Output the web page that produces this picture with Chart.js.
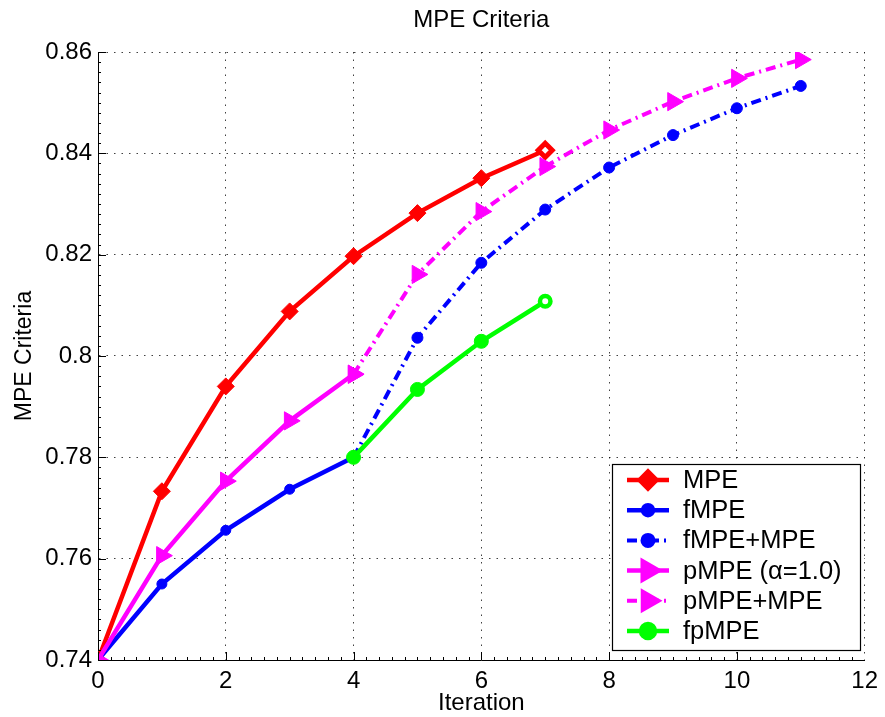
<!DOCTYPE html>
<html>
<head>
<meta charset="utf-8">
<title>MPE Criteria</title>
<script src="https://cdn.jsdelivr.net/npm/chart.js@4/dist/chart.umd.min.js"></script>
<style>
  html, body { margin: 0; padding: 0; background: #ffffff; }
  #chart { display: block; }
</style>
</head>
<body>
<canvas id="chart" width="885" height="717"></canvas>
<script>
// iterations for each run
const itersFull = [0, 1, 2, 3, 4, 5, 6, 7];
const itersStart = [0, 1, 2, 3, 4];
const itersCont = [4, 5, 6, 7, 8, 9, 10, 11];
const itersFp = [4, 5, 6, 7];

// MPE criteria values
const mpe = [0.740, 0.7733, 0.7940, 0.8088, 0.8197, 0.8282, 0.8351, 0.8406];
const fmpe = [0.740, 0.7550, 0.7656, 0.7737, 0.780];
const fmpeMpe = [0.780, 0.8036, 0.8184, 0.8289, 0.8372, 0.8436, 0.8489, 0.8533];
const pmpe = [0.740, 0.7606, 0.7753, 0.7872, 0.7964];
const pmpeMpe = [0.7964, 0.8161, 0.8285, 0.8374, 0.8446, 0.8502, 0.8548, 0.8585];
const fpmpe = [0.780, 0.7934, 0.8029, 0.8108];

const seriesNames = ['MPE', 'fMPE', 'fMPE+MPE', 'pMPE (\u03b1=1.0)', 'pMPE+MPE', 'fpMPE'];

const xTicks = [0, 2, 4, 6, 8, 10, 12];
const yTicks = [0.74, 0.76, 0.78, 0.80, 0.82, 0.84, 0.86];

const FONT = "'Liberation Sans', Arial, Helvetica, sans-serif";
const dashDot = [10, 5, 2, 5];
const gridDots = [1.5, 6];

function toPoints(xs, ys) {
    return xs.map((x, i) => ({ x: x, y: ys[i] }));
}

// hollow-looking last marker, like the original figure
function lastWhite(n, color) {
    const arr = new Array(n).fill(color);
    arr[n - 1] = '#ffffff';
    return arr;
}
function lastValue(n, normal, last) {
    const arr = new Array(n).fill(normal);
    arr[n - 1] = last;
    return arr;
}

const datasets = [
    {
        label: seriesNames[0],
        data: toPoints(itersFull, mpe),
        borderColor: '#ff0000',
        backgroundColor: '#ff0000',
        borderWidth: 4.5,
        pointStyle: 'rectRot',
        pointRadius: lastValue(mpe.length, 8.5, 7),
        pointBorderWidth: lastValue(mpe.length, 1, 5),
        pointBackgroundColor: lastWhite(mpe.length, '#ff0000'),
        pointBorderColor: '#ff0000',
        order: 5
    },
    {
        label: seriesNames[1],
        data: toPoints(itersStart, fmpe),
        borderColor: '#0000ff',
        backgroundColor: '#0000ff',
        borderWidth: 4.5,
        pointStyle: 'circle',
        pointRadius: 5,
        pointBorderWidth: 1,
        pointBackgroundColor: '#0000ff',
        order: 4
    },
    {
        label: seriesNames[2],
        data: toPoints(itersCont, fmpeMpe),
        borderColor: '#0000ff',
        backgroundColor: '#0000ff',
        borderWidth: 4,
        borderDash: dashDot,
        pointStyle: 'circle',
        pointRadius: 5.5,
        pointBorderWidth: 1,
        pointBackgroundColor: '#0000ff',
        order: 3
    },
    {
        label: seriesNames[3],
        data: toPoints(itersStart, pmpe),
        borderColor: '#ff00ff',
        backgroundColor: '#ff00ff',
        borderWidth: 4.5,
        pointStyle: 'triangle',
        pointRotation: 90,
        pointRadius: 10.5,
        pointBorderWidth: 1,
        pointBackgroundColor: '#ff00ff',
        order: 2
    },
    {
        label: seriesNames[4],
        data: toPoints(itersCont, pmpeMpe),
        borderColor: '#ff00ff',
        backgroundColor: '#ff00ff',
        borderWidth: 4,
        borderDash: dashDot,
        pointStyle: 'triangle',
        pointRotation: 90,
        pointRadius: 10.5,
        pointBorderWidth: 1,
        pointBackgroundColor: '#ff00ff',
        order: 1
    },
    {
        label: seriesNames[5],
        data: toPoints(itersFp, fpmpe),
        borderColor: '#00ff00',
        backgroundColor: '#00ff00',
        borderWidth: 4.5,
        pointStyle: 'circle',
        pointRadius: lastValue(fpmpe.length, 7, 5.25),
        pointBorderWidth: lastValue(fpmpe.length, 1, 4.5),
        pointBackgroundColor: lastWhite(fpmpe.length, '#00ff00'),
        pointBorderColor: '#00ff00',
        order: 0
    }
];

// title centred over the plot area, not the whole canvas
const plotTitle = {
    id: 'plotTitle',
    afterDraw(chart) {
        const ctx = chart.ctx;
        const area = chart.chartArea;
        ctx.save();
        ctx.fillStyle = '#000000';
        ctx.font = '24px ' + FONT;
        ctx.textAlign = 'center';
        ctx.textBaseline = 'middle';
        ctx.fillText('MPE Criteria', (area.left + area.right) / 2, 20);
        ctx.restore();
    }
};

// inward major/minor ticks, MATLAB style
const innerTicks = {
    id: 'innerTicks',
    afterDraw(chart) {
        const ctx = chart.ctx;
        const area = chart.chartArea;
        const xs = chart.scales.x;
        const ys = chart.scales.y;
        ctx.save();
        ctx.strokeStyle = '#000000';
        ctx.lineWidth = 1;
        ctx.beginPath();
        for (let i = 0; i < xTicks.length - 1; i++) {
            for (let k = 0; k < 10; k++) {
                const v = xTicks[i] + (xTicks[i + 1] - xTicks[i]) * k / 10;
                const px = Math.round(xs.getPixelForValue(v)) + 0.5;
                const len = k === 0 ? 8 : 3;
                ctx.moveTo(px, area.bottom);
                ctx.lineTo(px, area.bottom - len);
            }
        }
        for (let i = 0; i < yTicks.length - 1; i++) {
            for (let k = 0; k < 10; k++) {
                const v = yTicks[i] + (yTicks[i + 1] - yTicks[i]) * k / 10;
                const py = Math.round(ys.getPixelForValue(v)) + 0.5;
                const len = k === 0 ? 8 : 3;
                ctx.moveTo(area.left, py);
                ctx.lineTo(area.left + len, py);
            }
        }
        const topPy = Math.round(ys.getPixelForValue(yTicks[yTicks.length - 1])) + 0.5;
        ctx.moveTo(area.left, topPy);
        ctx.lineTo(area.left + 8, topPy);
        ctx.stroke();
        ctx.restore();
    }
};

// boxed legend in the lower right, line sample with marker in the middle
const boxLegend = {
    id: 'boxLegend',
    afterDraw(chart) {
        const ctx = chart.ctx;
        const box = { left: 612, top: 464, right: 860, bottom: 650 };
        ctx.save();
        ctx.fillStyle = '#ffffff';
        ctx.fillRect(box.left, box.top, box.right - box.left, box.bottom - box.top);
        ctx.strokeStyle = '#000000';
        ctx.lineWidth = 1.2;
        ctx.strokeRect(box.left + 0.5, box.top + 0.5, box.right - box.left, box.bottom - box.top);

        chart.data.datasets.forEach((ds, i) => {
            const y = 480 + i * 30.2;
            ctx.save();
            ctx.strokeStyle = ds.borderColor;
            ctx.lineWidth = ds.borderWidth;
            ctx.setLineDash(ds.borderDash || []);
            ctx.beginPath();
            ctx.moveTo(627, y);
            ctx.lineTo(669, y);
            ctx.stroke();
            ctx.setLineDash([]);
            ctx.fillStyle = ds.backgroundColor;
            ctx.strokeStyle = ds.borderColor;
            const r = Array.isArray(ds.pointRadius) ? ds.pointRadius[0] : ds.pointRadius;
            Chart.helpers.drawPoint(ctx, {
                pointStyle: ds.pointStyle,
                radius: r,
                rotation: ds.pointRotation || 0,
                borderWidth: 1
            }, 648, y);
            ctx.restore();

            ctx.fillStyle = '#000000';
            ctx.font = '25.5px ' + FONT;
            ctx.textAlign = 'left';
            ctx.textBaseline = 'middle';
            ctx.fillText(ds.label, 683, y + 1);
        });
        ctx.restore();
    }
};

const ctx = document.getElementById('chart').getContext('2d');
new Chart(ctx, {
    type: 'line',
    data: { datasets: datasets },
    options: {
        responsive: false,
        animation: false,
        layout: { padding: { left: 0, right: 17, top: 52, bottom: 0 } },
        elements: { line: { tension: 0, borderCapStyle: 'butt', borderJoinStyle: 'miter' } },
        plugins: {
            legend: { display: false },
            tooltip: { enabled: false },
            title: { display: false }
        },
        scales: {
            x: {
                type: 'linear',
                min: 0,
                max: 12,
                afterFit(scale) { scale.height = 57; },
                afterBuildTicks(scale) { scale.ticks = xTicks.map(v => ({ value: v })); },
                ticks: {
                    color: '#000000',
                    padding: 7,
                    font: { family: FONT, size: 24 },
                    callback: v => String(v)
                },
                grid: {
                    color: 'rgba(0,0,0,0.75)',
                    lineWidth: 1,
                    drawTicks: false
                },
                border: { display: true, color: '#000000', width: 1, dash: gridDots },
                title: {
                    display: true,
                    text: 'Iteration',
                    color: '#000000',
                    font: { family: FONT, size: 24, lineHeight: 1.2 },
                    padding: { top: 0, bottom: -1 }
                }
            },
            y: {
                type: 'linear',
                min: 0.74,
                max: 0.86,
                afterFit(scale) { scale.width = 98; },
                afterBuildTicks(scale) { scale.ticks = yTicks.map(v => ({ value: v })); },
                ticks: {
                    color: '#000000',
                    padding: 6,
                    font: { family: FONT, size: 24 },
                    callback: v => String(Number(v.toFixed(2)))
                },
                grid: {
                    color: 'rgba(0,0,0,0.75)',
                    lineWidth: 1,
                    drawTicks: false
                },
                border: { display: true, color: '#000000', width: 1, dash: gridDots },
                title: {
                    display: true,
                    text: 'MPE Criteria',
                    color: '#000000',
                    font: { family: FONT, size: 23, lineHeight: 1.2 },
                    padding: { top: 11, bottom: 0 }
                }
            }
        }
    },
    plugins: [plotTitle, innerTicks, boxLegend]
});
</script>
</body>
</html>
